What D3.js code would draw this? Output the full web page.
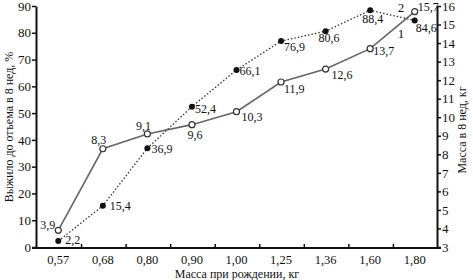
<!DOCTYPE html>
<html><head><meta charset="utf-8">
<script src="https://cdn.jsdelivr.net/npm/d3@7/dist/d3.min.js"></script>
<style>body{margin:0;background:#fff}svg{display:block}svg text{font-family:"Liberation Serif","DejaVu Serif",serif !important;fill:#111}</style>
</head><body>
<script>
const categories = ["0,57","0,68","0,80","0,90","1,00","1,25","1,36","1,60","1,80"];
const massValues = [3.9, 8.3, 9.1, 9.6, 10.3, 11.9, 12.6, 13.7, 15.7];
const massLabels = ["3,9","8,3","9,1","9,6","10,3","11,9","12,6","13,7","15,7"];
const survivalValues = [2.2, 15.4, 36.9, 52.4, 66.1, 76.9, 80.6, 88.4, 84.6];
const survivalLabels = ["2,2","15,4","36,9","52,4","66,1","76,9","80,6","88,4","84,6"];
const leftTicks = [0,10,20,30,40,50,60,70,80,90];
const rightTicks = [3,4,5,6,7,8,9,10,11,12,13,14,15,16];

// label offsets (dx, dy, anchor)
const massLabelPos = [[-3,-1,"end"],[-4,-5,"middle"],[-4,-4,"middle"],[3,14,"middle"],[5,9,"start"],[3,11,"start"],[6,10,"start"],[3,6,"start"],[3,-1,"start"]];
const survLabelPos = [[7,3,"start"],[7,4,"start"],[4,5,"start"],[3,6,"start"],[3,5,"start"],[3,10,"start"],[-7,11,"start"],[-8,13,"start"],[1,12,"start"]];

const W=473,H=280, L=36, R=437, T=6, B=247;
const svg=d3.select("body").append("svg").attr("width",W).attr("height",H)
  .attr("font-family","Liberation Serif, DejaVu Serif, serif");
const x=d3.scalePoint().domain(categories).range([L,R]).padding(0.5);
const yL=d3.scaleLinear().domain([0,90]).range([B,T]);
const yR=d3.scaleLinear().domain([3,16]).range([B,T]);

// axes
const axL=svg.append("g").attr("transform",`translate(${L},0)`).call(d3.axisLeft(yL).tickValues(leftTicks).tickSize(4).tickSizeOuter(0).tickFormat(d3.format("d")));
const axR=svg.append("g").attr("transform",`translate(${R},0)`).call(d3.axisRight(yR).tickValues(rightTicks).tickSize(4).tickSizeOuter(0).tickFormat(d3.format("d")));
[axL,axR].forEach(a=>a.attr("font-family",null).attr("font-size",null));
const step=x.step();
const bounds=categories.slice(1).map(c=>x(c)-step/2);
const axB=svg.append("g").attr("transform",`translate(0,${B+1})`);
axB.append("line").attr("x1",L-4).attr("x2",R+4).attr("stroke","#111").attr("stroke-width",2);
axB.selectAll("line.t").data(bounds).join("line").attr("class","t").attr("x1",d=>d+1).attr("x2",d=>d+1).attr("y1",0).attr("y2",-4).attr("stroke","#111").attr("stroke-width",1.5);
axB.selectAll("text").data(categories).join("text").attr("x",d=>x(d)).attr("y",16).attr("text-anchor","middle").style("font-size","12.5px").text(d=>d);
[axL,axR].forEach(a=>{a.select(".domain").attr("stroke","#111").attr("stroke-width",2);a.selectAll(".tick line").attr("stroke","#111").attr("stroke-width",1.5);a.selectAll(".tick text").style("font-size","13px").attr("fill","#111");});
axL.selectAll(".tick text").attr("x",-5);
axR.selectAll(".tick text").attr("x",5);

// titles
svg.append("text").attr("transform","translate(13,127) rotate(-90)").attr("text-anchor","middle").style("font-size","12px").text("Выжило до отъема в 8 нед, %");
svg.append("text").attr("transform","translate(466,130) rotate(-90)").attr("text-anchor","middle").style("font-size","12px").text("Масса в 8 нед, кг");
svg.append("text").attr("x",237).attr("y",278).attr("text-anchor","middle").style("font-size","12px").text("Масса при рождении, кг");

// survival series (dotted)
const lineS=d3.line().x((d,i)=>x(categories[i])).y(d=>yL(d));
svg.append("path").datum(survivalValues).attr("d",lineS).attr("fill","none").attr("stroke","#333").attr("stroke-width",1.3).attr("stroke-dasharray","1.5,2");
// mass series (solid)
const lineM=d3.line().x((d,i)=>x(categories[i])).y(d=>yR(d));
svg.append("path").datum(massValues).attr("d",lineM).attr("fill","none").attr("stroke","#666").attr("stroke-width",1.6);

svg.selectAll("circle.s").data(survivalValues).join("circle").attr("class","s").attr("cx",(d,i)=>x(categories[i])).attr("cy",d=>yL(d)).attr("r",3).attr("fill","#111");
svg.selectAll("circle.m").data(massValues).join("circle").attr("class","m").attr("cx",(d,i)=>x(categories[i])).attr("cy",d=>yR(d)).attr("r",3).attr("fill","#fff").attr("stroke","#333").attr("stroke-width",1.2);

svg.selectAll("text.ms").data(massValues).join("text").attr("class","ms")
 .attr("x",(d,i)=>x(categories[i])+massLabelPos[i][0]).attr("y",(d,i)=>yR(d)+massLabelPos[i][1])
 .attr("text-anchor",(d,i)=>massLabelPos[i][2]).style("font-size","12px").text((d,i)=>massLabels[i]);
svg.selectAll("text.sv").data(survivalValues).join("text").attr("class","sv")
 .attr("x",(d,i)=>x(categories[i])+survLabelPos[i][0]).attr("y",(d,i)=>yL(d)+survLabelPos[i][1])
 .attr("text-anchor",(d,i)=>survLabelPos[i][2]).style("font-size","12px").text((d,i)=>survivalLabels[i]);

// series numbers
svg.append("text").attr("x",x("1,80")-17).attr("y",12).style("font-size","13px").text("2");
svg.append("text").attr("x",x("1,80")-17).attr("y",38).style("font-size","13px").text("1");
</script>
</body></html>
